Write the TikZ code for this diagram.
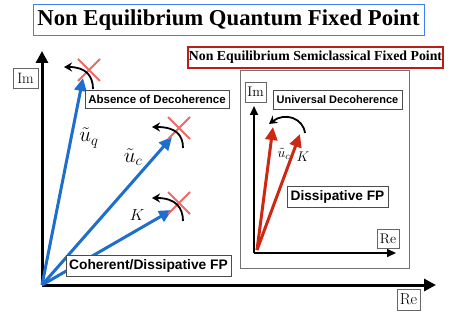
\RequirePackage{fix-cm}
\documentclass[tikz,border=0pt]{standalone}
\usepackage{fontspec}
\newfontfamily\serifb{Liberation Serif}[BoldFont={* Bold}]
\newfontfamily\sansb{Liberation Sans}[BoldFont={* Bold}]
\usetikzlibrary{arrows.meta,shapes.misc}
\definecolor{qblue}{RGB}{30,110,205}
\definecolor{sred}{RGB}{205,40,20}
\definecolor{xred}{RGB}{240,105,105}
\definecolor{tblue}{RGB}{60,130,240}
\definecolor{bred}{RGB}{185,30,25}
\begin{document}
\begin{tikzpicture}[x=1pt,y=-1pt,
  lbl/.style={draw=black!70, line width=0.8pt, fill=white, inner xsep=3pt, inner ysep=2pt},
  axlbl/.style={draw=black!60, line width=0.8pt, fill=white, inner xsep=2pt, inner ysep=2pt},
  bigaxis/.style={line width=3pt, -{Triangle[length=12pt,width=12pt]}},
  smallaxis/.style={line width=2pt, -{Triangle[length=9pt,width=8pt]}},
  vec/.style={line width=3pt, -{Triangle[length=13pt,width=12pt]}},
  crossmark/.style={cross out, draw=xred, line width=2pt, minimum size=20pt, inner sep=0pt},
  turn/.style={line width=1.8pt, -{Stealth[length=8pt,width=9pt]}},
  ulbl/.style={font=\fontsize{21}{21}\selectfont, inner sep=0pt},
  klbl/.style={font=\fontsize{16}{16}\selectfont, inner sep=0pt},
  slbl/.style={font=\fontsize{14}{14}\selectfont, inner sep=0pt}]
\useasboundingbox (0,0) rectangle (452,315);
% title
\node[draw=tblue, line width=1pt, minimum width=391pt, minimum height=31pt, inner sep=0pt,
  font=\serifb\bfseries\fontsize{22.7}{24}\selectfont] (title) at (228.5,20.5) {Non Equilibrium Quantum Fixed Point};
\node[draw=bred, line width=1.1pt, minimum width=255pt, minimum height=21pt, inner sep=0pt,
  font=\serifb\bfseries\fontsize{13.8}{14}\selectfont] (semi) at (315.5,57.5) {Non Equilibrium Semiclassical Fixed Point};
% main axes
\coordinate (O) at (42,285);
\coordinate (imtop) at (42,51);
\coordinate (reend) at (436,285);
\draw[bigaxis] (O) -- (imtop);
\draw[bigaxis] (O) -- (reend);
\node[axlbl, minimum width=25pt, minimum height=20pt, font=\fontsize{15}{15}\selectfont] (im) at (25.5,78) {Im};
\node[axlbl, minimum width=23pt, minimum height=21pt, font=\fontsize{16}{16}\selectfont] (re) at (408.5,299.5) {Re};
% blue vectors
\coordinate (tq) at (83,78);
\coordinate (tc) at (172,137);
\coordinate (tk) at (172,210);
\draw[vec, qblue] (O) -- (tq);
\draw[vec, qblue] (O) -- (tc);
\draw[vec, qblue] (O) -- (tk);
% crosses
\node[crossmark] (xq) at (89,70) {};
\node[crossmark] (xc) at (179,128) {};
\node[crossmark] (xk) at (179,203) {};
% turning arrows
\coordinate (sq) at (93,89);  \coordinate (eq) at (64,67);
\coordinate (sc) at (183,148); \coordinate (ec) at (152,127);
\coordinate (sk) at (183,221); \coordinate (ek) at (152,198);
\draw[turn] (sq) .. controls (93,76) and (86,67) .. (eq);
\draw[turn] (sc) .. controls (183,135) and (176,127) .. (ec);
\draw[turn] (sk) .. controls (183,208) and (176,198) .. (ek);
% labels
\node[ulbl] (luq) at (89,138) {$\tilde u_q$};
\node[ulbl] (luc) at (133,157) {$\tilde u_c$};
\node[klbl] (lk) at (137,215) {$K$};
\node[lbl, minimum width=144pt, minimum height=18pt, font=\sansb\bfseries\fontsize{11.5}{12}\selectfont] (abs) at (157,99) {Absence of Decoherence};
\node[lbl, minimum width=165pt, minimum height=21pt, font=\sansb\bfseries\fontsize{13.8}{14}\selectfont] (coh) at (148.5,265.5) {Coherent/Dissipative FP};
% inset
\draw[draw=black!55, line width=1pt] (240,71) rectangle (409,268);
\coordinate (o2) at (254,253);
\coordinate (im2top) at (254,106);
\coordinate (re2end) at (396,253);
\draw[smallaxis] (o2) -- (im2top);
\draw[smallaxis] (o2) -- (re2end);
\node[axlbl, minimum width=21pt, minimum height=20pt, font=\fontsize{14}{14}\selectfont] (im2) at (255.5,92) {Im};
\node[axlbl, minimum width=22pt, minimum height=19pt, font=\fontsize{14}{14}\selectfont] (re2) at (388,238.5) {Re};
\node[lbl, minimum width=129pt, minimum height=19pt, font=\sansb\bfseries\fontsize{11}{12}\selectfont] (univ) at (337.5,99.5) {Universal Decoherence};
\node[lbl, minimum width=101pt, minimum height=21pt, font=\sansb\bfseries\fontsize{13.7}{14}\selectfont] (diss) at (337.5,196.5) {Dissipative FP};
\coordinate (o3) at (257,250);
\coordinate (rc) at (273,127);
\coordinate (rk) at (300,134);
\draw[vec, sred] (o3) -- (rc);
\draw[vec, sred] (o3) -- (rk);
\coordinate (si) at (305,133); \coordinate (ei) at (269,124);
\draw[turn] (si) .. controls (303,118) and (285,112) .. (ei);
\node[slbl] (luc2) at (284,154) {$\tilde u_c$};
\node[slbl] (lk2) at (303,157) {$K$};
\end{tikzpicture}
\end{document}
